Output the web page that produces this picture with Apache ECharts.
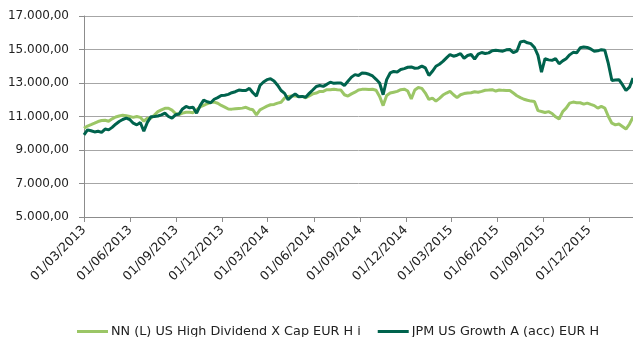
<!DOCTYPE html>
<html>
<head>
<meta charset="utf-8">
<script src="https://cdn.jsdelivr.net/npm/echarts@6/dist/echarts.min.js"></script>
<style>
  html, body { margin: 0; padding: 0; background: #ffffff; }
  #chart { width: 633px; height: 337px; }
</style>
</head>
<body>
<div id="chart"></div>
<script>
// Weekly closing values (EUR, base 10.000) starting on the first date below
const startDate = [2013, 2, 1];
const stepDays = 7;

const seriesNames = ['NN (L) US High Dividend X Cap EUR H i', 'JPM US Growth A (acc) EUR H'];

const nnValues = [
  10300, 10430, 10510, 10600, 10700, 10760, 10780, 10720, 10860, 10970,
  11030, 11080, 11050, 11000, 10950, 11000, 10950, 10720, 10900, 10900,
  11080, 11290, 11400, 11490, 11490, 11380, 11180, 11120, 11200, 11250,
  11250, 11230, 11400, 11580, 11660, 11760, 11840, 11860, 11790, 11660,
  11560, 11450, 11440, 11460, 11480, 11500, 11550, 11450, 11400, 11100,
  11400, 11510, 11620, 11700, 11720, 11800, 11850, 12100, 12200, 12220,
  12220, 12200, 12200, 12120, 12230, 12350, 12400, 12500, 12500, 12600,
  12600, 12630, 12600, 12580, 12300, 12220, 12350, 12450, 12580, 12620,
  12630, 12610, 12630, 12570, 12200, 11650, 12250, 12400, 12450, 12500,
  12600, 12630, 12520, 12050, 12580, 12730, 12680, 12400, 12020, 12100,
  11920, 12080, 12280, 12400, 12500, 12300, 12130, 12300, 12370, 12400,
  12420, 12480, 12450, 12500, 12570, 12580, 12600, 12520, 12580, 12560,
  12550, 12550, 12400, 12240, 12130, 12030, 11970, 11920, 11900, 11350,
  11300, 11240, 11290, 11180, 10980, 10850, 11280, 11500, 11800, 11860,
  11820, 11820, 11740, 11800, 11720, 11650, 11500, 11600, 11500, 11000,
  10600, 10500, 10550, 10400, 10250, 10550, 10960
];

const jpmValues = [
  9900, 10200, 10150, 10080, 10120, 10050, 10250, 10200, 10350, 10540,
  10700, 10820, 10900, 10820, 10600, 10500, 10640, 10120, 10650, 10980,
  11000, 11030, 11100, 11200, 11000, 10900, 11100, 11150, 11450, 11600,
  11520, 11550, 11200, 11650, 11980, 11880, 11820, 12030, 12130, 12250,
  12270, 12320, 12420, 12480, 12580, 12550, 12550, 12680, 12420, 12220,
  12850, 13060, 13200, 13250, 13120, 12870, 12550, 12380, 12000, 12200,
  12350, 12180, 12200, 12150, 12380, 12580, 12790, 12850, 12800, 12920,
  13050, 12980, 13000, 13000, 12850, 13100, 13350, 13500, 13450, 13600,
  13580, 13520, 13420, 13220, 13000, 12300, 13200, 13600, 13690, 13660,
  13810, 13860, 13940, 13960, 13880, 13900, 14010, 13900, 13450, 13700,
  14000, 14120, 14290, 14500, 14700, 14600, 14660, 14750, 14480, 14640,
  14700, 14420, 14720, 14820, 14760, 14800, 14930, 14950, 14920, 14900,
  14980, 15000, 14820, 14900, 15450, 15500, 15400, 15350, 15120, 14650,
  13650, 14450, 14380, 14350, 14450, 14150, 14320, 14450, 14680, 14830,
  14800, 15100, 15150, 15120, 15030, 14900, 14920, 14990, 14950, 14150,
  13150, 13180, 13200, 12900, 12550, 12750, 13300
];

// Quarterly tick dates along the horizontal axis
const tickDates = [
  '2013-03-01', '2013-06-01', '2013-09-01', '2013-12-01',
  '2014-03-01', '2014-06-01', '2014-09-01', '2014-12-01',
  '2015-03-01', '2015-06-01', '2015-09-01', '2015-12-01'
];

const yMin = 5000, yMax = 17000, yStep = 2000;

const colors = ['#9bc666', '#00634d'];

function toTime(s) {
  const p = s.split('-').map(Number);
  return new Date(p[0], p[1] - 1, p[2]).getTime();
}

const dates = nnValues.map((_, i) =>
  new Date(startDate[0], startDate[1], startDate[2] + i * stepDays).getTime());
const tickTimes = tickDates.map(toTime);

const pad = n => (n < 10 ? '0' : '') + n;
function fmtDate(v) {
  const d = new Date(v);
  return pad(d.getDate()) + '/' + pad(d.getMonth() + 1) + '/' + d.getFullYear();
}
function fmtNumber(v) {
  return String(Math.round(v)).replace(/\B(?=(\d{3})+(?!\d))/g, '.') + ',00';
}

const font = 'DejaVu Sans';
const chart = echarts.init(document.getElementById('chart'), null, { renderer: 'canvas' });

chart.setOption({
  animation: false,
  backgroundColor: '#ffffff',
  color: colors,
  grid: { left: 84, right: 0, top: 16, bottom: 120, containLabel: false },
  legend: {
    left: 77,
    top: 325,
    padding: 0,
    icon: 'rect',
    itemWidth: 31,
    itemHeight: 3,
    itemGap: 17,
    textStyle: { fontFamily: font, fontSize: 12.8, color: '#222', padding: [0, 0, 0, -2] },
    data: seriesNames
  },
  xAxis: {
    type: 'value',
    min: tickTimes[0],
    max: dates[dates.length - 1],
    splitLine: { show: false },
    axisLine: { show: true, lineStyle: { color: '#8c8c8c', width: 1 } },
    axisTick: {
      show: true, length: 5, inside: false,
      customValues: tickTimes,
      lineStyle: { color: '#8c8c8c' }
    },
    axisLabel: {
      customValues: tickTimes,
      rotate: 45,
      margin: 11,
      fontFamily: font,
      fontSize: 12.5,
      color: '#222',
      formatter: v => fmtDate(v)
    }
  },
  yAxis: {
    type: 'value',
    min: yMin,
    max: yMax,
    interval: yStep,
    axisLine: { show: true, lineStyle: { color: '#8c8c8c', width: 1 } },
    axisTick: { show: true, length: 5, lineStyle: { color: '#8c8c8c' } },
    splitLine: { show: true, lineStyle: { color: '#a6a6a6', width: 1 } },
    axisLabel: {
      margin: 15,
      fontFamily: font,
      fontSize: 12,
      color: '#222',
      formatter: v => fmtNumber(v)
    }
  },
  series: [
    {
      name: seriesNames[0],
      type: 'line',
      showSymbol: false,
      data: dates.map((d, i) => [d, nnValues[i]]),
      lineStyle: { width: 3, color: colors[0] },
      z: 2
    },
    {
      name: seriesNames[1],
      type: 'line',
      showSymbol: false,
      data: dates.map((d, i) => [d, jpmValues[i]]),
      lineStyle: { width: 3, color: colors[1] },
      z: 3
    }
  ]
});
</script>
</body>
</html>
